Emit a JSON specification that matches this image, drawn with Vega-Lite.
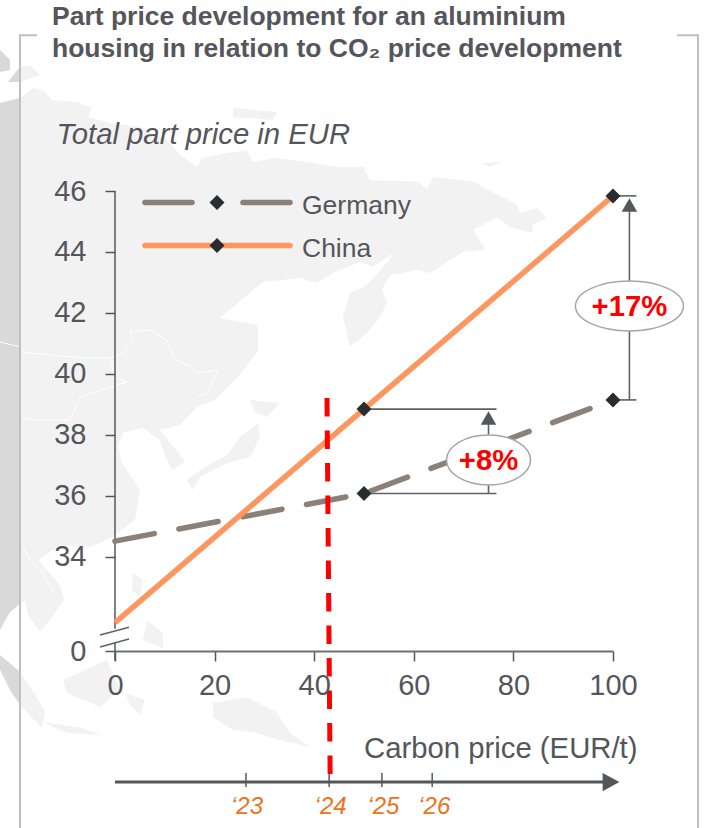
{"$schema":"https://vega.github.io/schema/vega-lite/v6.json","width":498,"height":460,"autosize":"none","padding":{"left":115,"top":191,"right":92,"bottom":177},"background":"white","config":{"font":"Liberation Sans","view":{"stroke":null}},
"title":{"text":["Part price development for an aluminium","housing in relation to CO₂ price development"],"anchor":"start","frame":"group","dx":-63,"offset":-31,"fontSize":26.5,"fontWeight":"bold","color":"#54565b","lineHeight":32,"baseline":"top"},
"datasets":{
"land":[
{"id":"main","x":-19.08,"y":49.05},{"id":"main","x":-16.47,"y":49.38},{"id":"main","x":-14.46,"y":49.31},{"id":"main","x":-12.65,"y":48.98},{"id":"main","x":-7.63,"y":48.92},{"id":"main","x":-4.62,"y":48.72},{"id":"main","x":-5.42,"y":48.43},{"id":"main","x":-1.0,"y":48.23},{"id":"main","x":5.02,"y":48.10},{"id":"main","x":10.44,"y":47.67},{"id":"main","x":13.05,"y":47.18},{"id":"main","x":16.47,"y":46.79},{"id":"main","x":17.67,"y":47.08},{"id":"main","x":22.49,"y":47.25},{"id":"main","x":26.51,"y":47.34},{"id":"main","x":27.71,"y":46.95},{"id":"main","x":32.53,"y":47.08},{"id":"main","x":39.76,"y":46.92},{"id":"main","x":44.58,"y":46.79},{"id":"main","x":49.80,"y":46.79},{"id":"main","x":51.20,"y":46.36},{"id":"main","x":60.64,"y":46.30},{"id":"main","x":62.65,"y":46.07},{"id":"main","x":63.86,"y":46.46},{"id":"main","x":71.89,"y":46.30},{"id":"main","x":80.72,"y":45.54},{"id":"main","x":81.33,"y":45.28},{"id":"main","x":84.74,"y":45.44},{"id":"main","x":86.75,"y":45.11},{"id":"main","x":83.94,"y":44.89},{"id":"main","x":83.73,"y":44.62},{"id":"main","x":79.32,"y":44.82},{"id":"main","x":76.71,"y":45.15},{"id":"main","x":71.89,"y":44.72},{"id":"main","x":74.30,"y":44.07},{"id":"main","x":69.88,"y":44.0},{"id":"main","x":63.25,"y":43.31},{"id":"main","x":60.84,"y":43.41},{"id":"main","x":57.83,"y":43.31},{"id":"main","x":55.22,"y":43.25},{"id":"main","x":53.61,"y":42.75},{"id":"main","x":54.62,"y":42.33},{"id":"main","x":53.21,"y":41.87},{"id":"main","x":50.60,"y":41.34},{"id":"main","x":47.19,"y":40.89},{"id":"main","x":45.78,"y":41.87},{"id":"main","x":47.19,"y":42.66},{"id":"main","x":50.60,"y":42.92},{"id":"main","x":54.22,"y":43.57},{"id":"main","x":56.22,"y":44.0},{"id":"main","x":51.81,"y":43.51},{"id":"main","x":49.20,"y":43.67},{"id":"main","x":43.78,"y":43.31},{"id":"main","x":40.56,"y":42.98},{"id":"main","x":37.15,"y":43.15},{"id":"main","x":29.72,"y":43.02},{"id":"main","x":21.08,"y":41.84},{"id":"main","x":28.71,"y":41.61},{"id":"main","x":28.71,"y":40.79},{"id":"main","x":25.10,"y":39.97},{"id":"main","x":20.08,"y":39.15},{"id":"main","x":16.47,"y":38.92},{"id":"main","x":13.05,"y":38.33},{"id":"main","x":9.04,"y":38.16},{"id":"main","x":11.45,"y":37.67},{"id":"main","x":14.06,"y":37.11},{"id":"main","x":11.45,"y":36.85},{"id":"main","x":10.04,"y":37.34},{"id":"main","x":9.04,"y":37.84},{"id":"main","x":5.62,"y":38.23},{"id":"main","x":1.61,"y":38.07},{"id":"main","x":0.60,"y":37.67},{"id":"main","x":1.41,"y":37.08},{"id":"main","x":5.02,"y":36.20},{"id":"main","x":4.02,"y":35.21},{"id":"main","x":-0.40,"y":34.66},{"id":"main","x":-5.02,"y":34.33},{"id":"main","x":-11.04,"y":34.39},{"id":"main","x":-15.46,"y":33.90},{"id":"main","x":-11.04,"y":33.08},{"id":"main","x":-10.24,"y":32.59},{"id":"main","x":-13.05,"y":31.93},{"id":"main","x":-15.06,"y":31.54},{"id":"main","x":-17.47,"y":32.10},{"id":"main","x":-18.07,"y":32.59},{"id":"main","x":-19.08,"y":32.46},{"id":"main","x":-19.08,"y":49.05},
{"id":"sum","x":-19.08,"y":30.23},{"id":"sum","x":-16.06,"y":29.48},{"id":"sum","x":-14.06,"y":28.92},{"id":"sum","x":-14.66,"y":28.39},{"id":"sum","x":-19.08,"y":29.15},
{"id":"bor","x":-10.44,"y":29.97},{"id":"bor","x":-1.61,"y":30.62},{"id":"bor","x":1.0,"y":29.64},{"id":"bor","x":-3.01,"y":29.08},{"id":"bor","x":-9.64,"y":29.54},
{"id":"sul","x":2.01,"y":29.54},{"id":"sul","x":6.02,"y":29.31},{"id":"sul","x":5.02,"y":28.82},{"id":"sul","x":3.01,"y":29.15},
{"id":"ng","x":19.68,"y":29.21},{"id":"ng","x":26.51,"y":29.41},{"id":"ng","x":32.53,"y":28.89},{"id":"ng","x":35.14,"y":28.23},{"id":"ng","x":39.16,"y":27.77},{"id":"ng","x":33.13,"y":28.0},{"id":"ng","x":28.51,"y":28.23},{"id":"ng","x":23.69,"y":28.33},{"id":"ng","x":19.68,"y":28.75},
{"id":"jav","x":-14.46,"y":28.59},{"id":"jav","x":-6.43,"y":28.39},{"id":"jav","x":-3.01,"y":28.16},{"id":"jav","x":-9.64,"y":28.23},
{"id":"ph1","x":3.61,"y":33.48},{"id":"ph1","x":5.62,"y":33.25},{"id":"ph1","x":5.02,"y":32.69},{"id":"ph1","x":3.41,"y":32.92},
{"id":"ph2","x":6.43,"y":31.93},{"id":"ph2","x":9.64,"y":31.51},{"id":"ph2","x":9.64,"y":31.02},{"id":"ph2","x":5.62,"y":31.28},
{"id":"hon","x":28.71,"y":38.39},{"id":"hon","x":29.12,"y":37.93},{"id":"hon","x":27.11,"y":37.28},{"id":"hon","x":22.49,"y":37.08},{"id":"hon","x":17.07,"y":36.62},{"id":"hon","x":15.66,"y":36.20},{"id":"hon","x":14.46,"y":36.52},{"id":"hon","x":17.07,"y":36.85},{"id":"hon","x":22.49,"y":37.34},{"id":"hon","x":25.10,"y":37.93},
{"id":"hok","x":27.11,"y":39.15},{"id":"hok","x":33.13,"y":39.05},{"id":"hok","x":30.52,"y":38.59},{"id":"hok","x":28.11,"y":38.75},
{"id":"arc","x":73.69,"y":46.92},{"id":"arc","x":77.71,"y":46.95},{"id":"arc","x":75.30,"y":46.79},
{"id":"top","x":23.69,"y":48.72},{"id":"top","x":32.53,"y":48.59},{"id":"top","x":31.73,"y":48.33},{"id":"top","x":23.69,"y":48.43},
{"id":"isl","x":-19.08,"y":50.07},{"id":"isl","x":-17.07,"y":50.13},{"id":"isl","x":-15.06,"y":49.80},{"id":"isl","x":-19.08,"y":49.57}],
"landDark":[
{"id":"strip","x":-23.09,"y":48.89},{"id":"strip","x":-19.08,"y":49.05},{"id":"strip","x":-19.08,"y":32.46},{"id":"strip","x":-21.08,"y":32.20},{"id":"strip","x":-23.09,"y":31.61},
{"id":"sum","x":-23.09,"y":30.79},{"id":"sum","x":-20.68,"y":30.46},{"id":"sum","x":-19.08,"y":30.23},{"id":"sum","x":-19.08,"y":29.15},{"id":"sum","x":-21.08,"y":29.64},{"id":"sum","x":-23.09,"y":30.30},
{"id":"i1","x":-21.49,"y":49.57},{"id":"i1","x":-19.08,"y":50.07},{"id":"i1","x":-19.08,"y":49.57},
{"id":"i2","x":-23.09,"y":50.62},{"id":"i2","x":-21.08,"y":50.30},{"id":"i2","x":-21.08,"y":49.97},{"id":"i2","x":-23.09,"y":49.90}],
"borders":[
{"id":"b1","x":-18.67,"y":40.72},{"id":"b1","x":-13.05,"y":40.62},{"id":"b1","x":-5.62,"y":40.52},{"id":"b1","x":-1.0,"y":40.52},{"id":"b1","x":1.61,"y":40.69},{"id":"b1","x":3.61,"y":41.11},{"id":"b1","x":3.01,"y":41.38},{"id":"b1","x":7.03,"y":41.44},{"id":"b1","x":10.44,"y":41.11},{"id":"b1","x":12.05,"y":40.46},{"id":"b1","x":15.46,"y":40.23},{"id":"b1","x":16.47,"y":40.03},{"id":"b1","x":20.68,"y":40.13},{"id":"b1","x":18.47,"y":39.38},{"id":"b1","x":16.47,"y":39.25},
{"id":"b2","x":-1.0,"y":40.52},{"id":"b2","x":0,"y":39.90},{"id":"b2","x":2.41,"y":39.74},{"id":"b2","x":-1.61,"y":39.54},{"id":"b2","x":-7.03,"y":39.25},{"id":"b2","x":-9.04,"y":38.49},{"id":"b2","x":-16.06,"y":38.49},{"id":"b2","x":-19.08,"y":38.59},
{"id":"b3","x":-18.67,"y":34.39},{"id":"b3","x":-17.07,"y":33.90},{"id":"b3","x":-14.66,"y":33.51},{"id":"b3","x":-12.05,"y":32.75},
{"id":"b4","x":-23.09,"y":41.05},{"id":"b4","x":-19.08,"y":40.89}],
"frame":[
{"id":"l","x":-15.66,"y":51.11},{"id":"l","x":-19.08,"y":51.11},{"id":"l","x":-19.08,"y":25.0},
{"id":"r","x":112.85,"y":51.11},{"id":"r","x":117.07,"y":51.11},{"id":"r","x":117.07,"y":25.0}],
"series":[
{"country":"Germany","carbon":0,"price":34.52},{"country":"Germany","carbon":50,"price":36.08},{"country":"Germany","carbon":100,"price":39.15},
{"country":"China","carbon":0,"price":31.85},{"country":"China","carbon":50,"price":38.85},{"country":"China","carbon":100,"price":45.84}],
"guides":[
{"id":"axis1","x":0,"y":46},{"id":"axis1","x":0,"y":31.65},
{"id":"axis2","x":0,"y":31.2},{"id":"axis2","x":0,"y":30.6},
{"id":"brk1","x":-3,"y":31.44},{"id":"brk1","x":2.8,"y":31.70},
{"id":"brk2","x":-3,"y":31.05},{"id":"brk2","x":2.8,"y":31.31},
{"id":"c17a","x":100,"y":45.84},{"id":"c17a","x":104.7,"y":45.84},
{"id":"c17b","x":100,"y":39.15},{"id":"c17b","x":104.7,"y":39.15},
{"id":"c17v","x":103.3,"y":45.6},{"id":"c17v","x":103.3,"y":39.15},
{"id":"c8a","x":50,"y":38.85},{"id":"c8a","x":76.6,"y":38.85},
{"id":"c8b","x":50,"y":36.08},{"id":"c8b","x":76.6,"y":36.08},
{"id":"c8v","x":75,"y":38.6},{"id":"c8v","x":75,"y":36.08},
{"id":"t23","x":26.3,"y":26.92},{"id":"t23","x":26.3,"y":26.46},
{"id":"t24","x":43,"y":26.92},{"id":"t24","x":43,"y":26.46},
{"id":"t25","x":53.6,"y":26.92},{"id":"t25","x":53.6,"y":26.46},
{"id":"t26","x":63.7,"y":26.92},{"id":"t26","x":63.7,"y":26.46}],
"arrows":[{"x":103.3,"y":45.54},{"x":75,"y":38.56}],
"legendLines":[
{"id":"g1","x":6.02,"y":45.62},{"id":"g1","x":15.46,"y":45.62},
{"id":"g2","x":25.7,"y":45.62},{"id":"g2","x":35.14,"y":45.62}],
"legendChina":[{"x":6.02,"y":44.21},{"x":35.14,"y":44.21}],
"legendDots":[{"x":20.48,"y":45.62},{"x":20.48,"y":44.21}],
"legendText":[{"x":37.55,"y":45.51,"t":"Germany"},{"x":37.55,"y":44.1,"t":"China"}],
"years":[{"x":26.5,"y":25.8,"t":"‘23"},{"x":43.3,"y":25.8,"t":"‘24"},{"x":53.9,"y":25.8,"t":"‘25"},{"x":64.1,"y":25.8,"t":"‘26"}],
"timeline":[{"x":0,"y":26.62},{"x":99.6,"y":26.62}],
"redline":[{"x":42.57,"y":39.21},{"x":43.2,"y":26.82}],
"e17":[{"x":103.3,"y":42.23,"t":"+17%"}],
"e8":[{"x":75,"y":37.18,"t":"+8%"}]
},
"layer":[
{"data":{"name":"landDark"},"mark":{"type":"line","fill":"#d9d9d9","stroke":"transparent","strokeWidth":0},"encoding":{"x":{"field":"x","type":"quantitative","scale":{"domain":[0,100],"nice":false,"zero":false},"axis":{"values":[0,20,40,60,80,100],"grid":false,"domain":true,"domainColor":"#6e7075","domainWidth":2,"tickColor":"#54565b","tickWidth":1.5,"tickSize":10,"labelFontSize":29,"labelColor":"#54565b","labelPadding":10,"labelFlush":false,"zindex":1,"title":"Carbon price (EUR/t)","titleFontSize":29.3,"titleFontWeight":"normal","titleColor":"#54565b","titleAlign":"right","titleAnchor":null,"titleX":522,"titleY":97,"titleBaseline":"middle"}},"y":{"field":"y","type":"quantitative","scale":{"domain":[30.918,46],"nice":false,"zero":false},"axis":{"values":[30.918,34,36,38,40,42,44,46],"labelExpr":"datum.value<31?'0':format(datum.value,'d')","grid":false,"domain":false,"tickColor":"#54565b","tickWidth":1.5,"tickSize":10,"labelFontSize":29,"labelColor":"#54565b","labelPadding":19,"zindex":1,"title":"Total part price in EUR","titleFontSize":29.3,"titleFontWeight":"normal","titleFontStyle":"italic","titleColor":"#54565b","titleAngle":0,"titleAlign":"left","titleAnchor":null,"titleX":-59,"titleY":-57,"titleBaseline":"middle"}},"detail":{"field":"id"},"order":{"value":null}}},
{"data":{"name":"land"},"mark":{"type":"line","fill":"#f2f2f2","stroke":"transparent","strokeWidth":0},"encoding":{"x":{"field":"x","type":"quantitative"},"y":{"field":"y","type":"quantitative"},"detail":{"field":"id"},"order":{"value":null}}},
{"data":{"name":"borders"},"mark":{"type":"line","stroke":"#ffffff","strokeWidth":1},"encoding":{"x":{"field":"x","type":"quantitative"},"y":{"field":"y","type":"quantitative"},"detail":{"field":"id"},"order":{"value":null}}},
{"data":{"name":"frame"},"mark":{"type":"line","stroke":"#bfbfbf","strokeWidth":2},"encoding":{"x":{"field":"x","type":"quantitative"},"y":{"field":"y","type":"quantitative"},"detail":{"field":"id"},"order":{"value":null}}},
{"data":{"name":"guides"},"mark":{"type":"line","stroke":"#5f6166","strokeWidth":1.6},"encoding":{"x":{"field":"x","type":"quantitative"},"y":{"field":"y","type":"quantitative"},"detail":{"field":"id"},"order":{"value":null}}},
{"data":{"name":"timeline"},"mark":{"type":"line","stroke":"#54565b","strokeWidth":3},"encoding":{"x":{"field":"x","type":"quantitative"},"y":{"field":"y","type":"quantitative"}}},
{"data":{"name":"timeline"},"transform":[{"filter":"datum.x>50"}],"mark":{"type":"point","shape":"M-1,-1.1L1,0L-1,1.1Z","filled":true,"color":"#54565b","size":280,"opacity":1},"encoding":{"x":{"field":"x","type":"quantitative"},"y":{"field":"y","type":"quantitative"}}},
{"data":{"name":"series"},"transform":[{"filter":"datum.country==='Germany'"}],"mark":{"type":"line","stroke":"#8c8078","strokeWidth":5.5,"strokeDash":[40,25],"strokeCap":"round"},"encoding":{"x":{"field":"carbon","type":"quantitative"},"y":{"field":"price","type":"quantitative"}}},
{"data":{"name":"series"},"transform":[{"filter":"datum.country==='China'"}],"mark":{"type":"line","stroke":"#ff955f","strokeWidth":5.5},"encoding":{"x":{"field":"carbon","type":"quantitative"},"y":{"field":"price","type":"quantitative"}}},
{"data":{"name":"series"},"mark":{"type":"point","shape":"diamond","filled":true,"color":"#2b2c2e","size":225,"opacity":1},"transform":[{"filter":"datum.carbon>0"}],"encoding":{"x":{"field":"carbon","type":"quantitative"},"y":{"field":"price","type":"quantitative"}}},
{"data":{"name":"arrows"},"mark":{"type":"point","shape":"triangle-up","filled":true,"color":"#54565b","size":240,"opacity":1},"encoding":{"x":{"field":"x","type":"quantitative"},"y":{"field":"y","type":"quantitative"}}},
{"data":{"name":"redline"},"mark":{"type":"line","stroke":"#ff0000","strokeWidth":5,"strokeDash":[18.5,14]},"encoding":{"x":{"field":"x","type":"quantitative"},"y":{"field":"y","type":"quantitative"}}},
{"data":{"name":"e17"},"mark":{"type":"point","shape":"M-1,0A1,0.463,0,1,1,1,0A1,0.463,0,1,1,-1,0Z","filled":true,"fill":"#ffffff","stroke":"#a6a6a6","strokeWidth":1.5,"size":11664,"opacity":1},"encoding":{"x":{"field":"x","type":"quantitative"},"y":{"field":"y","type":"quantitative"}}},
{"data":{"name":"e8"},"mark":{"type":"point","shape":"M-1,0A1,0.595,0,1,1,1,0A1,0.595,0,1,1,-1,0Z","filled":true,"fill":"#ffffff","stroke":"#a6a6a6","strokeWidth":1.5,"size":7056,"opacity":1},"encoding":{"x":{"field":"x","type":"quantitative"},"y":{"field":"y","type":"quantitative"}}},
{"data":{"name":"e17"},"mark":{"type":"text","fontSize":29.3,"fontWeight":"bold","color":"#ff0000","baseline":"middle","dy":1},"encoding":{"x":{"field":"x","type":"quantitative"},"y":{"field":"y","type":"quantitative"},"text":{"field":"t"}}},
{"data":{"name":"e8"},"mark":{"type":"text","fontSize":29.3,"fontWeight":"bold","color":"#ff0000","baseline":"middle","dy":1},"encoding":{"x":{"field":"x","type":"quantitative"},"y":{"field":"y","type":"quantitative"},"text":{"field":"t"}}},
{"data":{"name":"legendLines"},"mark":{"type":"line","stroke":"#8c8078","strokeWidth":5.5,"strokeCap":"round"},"encoding":{"x":{"field":"x","type":"quantitative"},"y":{"field":"y","type":"quantitative"},"detail":{"field":"id"}}},
{"data":{"name":"legendChina"},"mark":{"type":"line","stroke":"#ff955f","strokeWidth":5.5,"strokeCap":"round"},"encoding":{"x":{"field":"x","type":"quantitative"},"y":{"field":"y","type":"quantitative"}}},
{"data":{"name":"legendDots"},"mark":{"type":"point","shape":"diamond","filled":true,"color":"#2b2c2e","size":225,"opacity":1},"encoding":{"x":{"field":"x","type":"quantitative"},"y":{"field":"y","type":"quantitative"}}},
{"data":{"name":"legendText"},"mark":{"type":"text","align":"left","baseline":"middle","fontSize":26.5,"color":"#54565b"},"encoding":{"x":{"field":"x","type":"quantitative"},"y":{"field":"y","type":"quantitative"},"text":{"field":"t"}}},
{"data":{"name":"years"},"mark":{"type":"text","baseline":"middle","fontSize":24,"fontStyle":"italic","color":"#ee7219"},"encoding":{"x":{"field":"x","type":"quantitative"},"y":{"field":"y","type":"quantitative"},"text":{"field":"t"}}}
]}
